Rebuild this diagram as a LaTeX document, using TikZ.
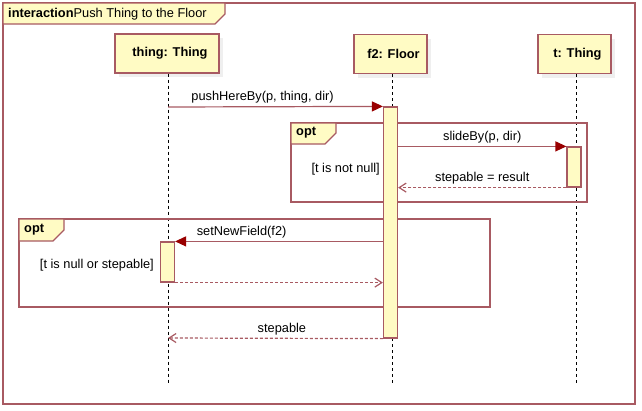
\documentclass[tikz,border=0pt]{standalone}
\usepackage{fontspec}
\setmainfont{Liberation Sans}
\usepackage{xcolor}
\usetikzlibrary{arrows.meta,shadows}
\definecolor{frm}{HTML}{A85A62}
\definecolor{hd}{HTML}{FFFBC4}
\definecolor{tip}{HTML}{990000}

\tikzset{
	txt/.style = {font = \fontsize{12.8}{15}\selectfont},
	head/.style = {draw = frm, fill = hd, line width = 1.2pt, font = \fontsize{12.8}{15}\selectfont\bfseries,
		minimum height = 39pt, inner sep = 0pt,
		drop shadow = {shadow xshift = 4pt, shadow yshift = -4pt, fill = black!12}},
	act/.style = {draw = frm, fill = hd, line width = 1.2pt, minimum width = 14pt, inner sep = 0pt},
	life/.style = {dashed, black, thin},
	msg/.style = {frm, line width = 1.2pt, -{Triangle[length = 11pt, width = 10pt, color = tip]}},
	ret/.style = {frm, line width = 1.2pt, dash pattern = on 3pt off 2pt, -{Straight Barb[length = 7pt, width = 9pt]}},
	lbl/.style = {inner sep = 3pt, black}
}

\begin{document}
\begin{tikzpicture}[x = 1pt, y = -1pt, txt]
	\useasboundingbox (0,0) rectangle (642,410);

	% outer frame
	\draw [frm, line width = 1.2pt] (3,3) rectangle (635,404);
	\draw [fill = hd, draw = frm, line width = 1.2pt] (3,3) -- (225,3) -- (225,14) -- (215,24) -- (3,24) -- cycle;
	\node (title) [anchor = west, inner sep = 0pt] at (8,14) {\textbf{interaction}Push Thing to the Floor};

	% heads
	\node (thing) [head, minimum width = 104pt] at (167,53.5) {\hspace{6pt}thing: Thing};
	\node (floor) [head, minimum width = 73pt] at (390.5,54) {\hspace{6pt}f2: Floor};
	\node (t) [head, minimum width = 73pt] at (574.5,54) {\hspace{6pt}t: Thing};

	% lifelines
	\coordinate (thingEnd) at (168,383);
	\coordinate (floorEnd) at (392,383);
	\coordinate (tEnd) at (576,383);
	\draw [life] (thing.south -| thingEnd) -- (thingEnd);
	\draw [life] (floor.south -| floorEnd) -- (floorEnd);
	\draw [life] (t.south -| tEnd) -- (tEnd);

	% opt frames
	\begin{scope}
	\draw [frm, line width = 1.2pt] (291,123) rectangle (587,202);
	\draw [fill = hd, draw = frm, line width = 1.2pt] (291,123) -- (336,123) -- (336,133) -- (325,144) -- (291,144) -- cycle;
	\node (opt1) [anchor = west, inner sep = 0pt, font = \fontsize{12.8}{15}\selectfont\bfseries] at (296,133) {opt};
	\node (guard1) [anchor = east, inner sep = 0pt] at (380,169) {[t is not null]};
	\end{scope}

	\begin{scope}
	\draw [frm, line width = 1.2pt] (19,219) rectangle (490,307);
	\draw [fill = hd, draw = frm, line width = 1.2pt] (19,219) -- (64,219) -- (64,230) -- (53,241) -- (19,241) -- cycle;
	\node (opt2) [anchor = west, inner sep = 0pt, font = \fontsize{12.8}{15}\selectfont\bfseries] at (24,230) {opt};
	\node (guard2) [anchor = east, inner sep = 0pt] at (154,265) {[t is null or stepable]};
	\end{scope}

	% activations
	\node (actF) [act, minimum height = 231pt] at (390.5,222.5) {};
	\node (actT) [act, minimum height = 40pt] at (574,167) {};
	\node (actThing) [act, minimum height = 40pt] at (167.5,262) {};

	% messages
	\coordinate (pushStart) at (168,107);
	\coordinate (backEnd) at (168,338);
	\draw [msg] (pushStart) -- node [lbl, above, pos = 0.44] {pushHereBy(p, thing, dir)} (actF.north west);
	\draw [msg] (actF.east |- actT.north) -- node [lbl, above] {slideBy(p, dir)} (actT.north west);
	\draw [ret] (actT.south west) -- node [lbl, above] {stepable = result} (actF.east |- actT.south);
	\draw [msg] (actF.west |- actThing.north) -- node [lbl, above, pos = 0.68] {setNewField(f2)} (actThing.north east);
	\draw [ret] (actThing.south east) -- (actF.west |- actThing.south);
	\draw [ret] (actF.south west) -- node [lbl, above, pos = 0.47] {stepable} (backEnd);
\end{tikzpicture}
\end{document}
